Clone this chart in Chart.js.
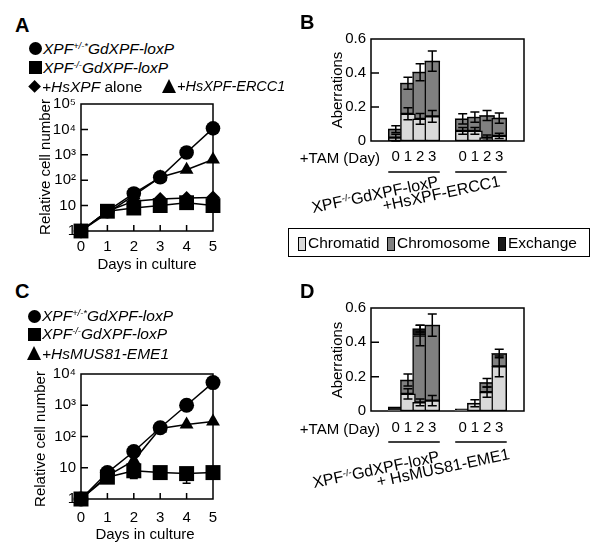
<!DOCTYPE html>
<html><head><meta charset="utf-8">
<script src="https://cdn.jsdelivr.net/npm/chart.js@4.4.0/dist/chart.umd.min.js"></script>
<style>
body{margin:0;background:#fff;width:600px;height:549px;overflow:hidden;position:relative;font-family:"Liberation Sans",Arial,sans-serif;color:#000}
.t{position:absolute;white-space:nowrap;line-height:1}
.it{font-style:italic}
.b{font-weight:bold;font-size:20px}
sup{font-size:0.6em;vertical-align:0.5em;line-height:0}
.cv{position:absolute}
.mk{position:absolute;background:#000}
.rot{position:absolute;white-space:nowrap;line-height:1;transform:translate(-50%,-50%) rotate(-90deg);font-size:15px}
.sw{position:absolute;width:6px;height:12px;border:1px solid #000}
</style></head><body>
<canvas id="cA" class="cv"></canvas>
<canvas id="cB" class="cv"></canvas>
<canvas id="cC" class="cv"></canvas>
<canvas id="cD" class="cv"></canvas>
<div id="txt"></div>
<script>
// ---------------- DATA ----------------
const days = [0, 1, 2, 3, 4, 5];
const yTicksA = [1, 10, 100, 1000, 10000, 100000];
const yTickLabelsA = ['1', '10', '10²', '10³', '10⁴', '10⁵'];
const yTicksC = [1, 10, 100, 1000, 10000];
const yTickLabelsC = ['1', '10', '10²', '10³', '10⁴'];

const namesA = ['XPF+/-* GdXPF-loxP', 'XPF-/- GdXPF-loxP', '+HsXPF alone', '+HsXPF-ERCC1'];
const a_hetero = [1, 6, 30, 130, 1230, 11000];
const a_null   = [1, 6, 8, 10, 13, 10];
const a_xpf    = [1, 6, 15, 18, 20, 21];
const a_ercc1  = [1, 5, 25, 130, 257, 650];

const namesC = ['XPF+/-* GdXPF-loxP', 'XPF-/- GdXPF-loxP', '+HsMUS81-EME1'];
const c_hetero = [1, 7, 33, 190, 1000, 5300];
const c_null   = [1, 5, 8, 7, 6.5, 7];
const c_null_err = [0, 0, 3.5, 0, 3.3, 0];
const c_mus81  = [1, 5.5, 17, 180, 240, 300];

const dayLabels = ['0', '1', '2', '3', '0', '1', '2', '3'];
const aberrationTypes = ['Chromatid', 'Chromosome', 'Exchange'];
const aberrationColors = ['#d9d9d9', '#808080', '#1a1a1a'];
const yTicksBar = [0, 0.2, 0.4, 0.6];
const yTickLabelsBar = ['0', '0.2', '0.4', '0.6'];

const b_chromatid  = [0.02, 0.16, 0.13, 0.145, 0.06, 0.06, 0.02, 0.03];
const b_chromosome = [0.05, 0.18, 0.275, 0.325, 0.07, 0.08, 0.13, 0.105];
const b_exchange   = [0, 0, 0, 0, 0, 0, 0, 0];
const b_chromatid_err  = [0.02, 0.035, 0.032, 0.035, 0.02, 0.02, 0.015, 0.015];
const b_chromosome_err = [0.02, 0.035, 0.05, 0.06, 0.03, 0.03, 0.03, 0.03];
const b_exchange_err   = [0, 0, 0, 0, 0, 0, 0, 0];

const d_chromatid  = [0, 0.10, 0.05, 0.06, 0, 0.045, 0.11, 0.26];
const d_chromosome = [0, 0.08, 0.39, 0.44, 0, 0, 0.055, 0.075];
const d_exchange   = [0.025, 0, 0.04, 0, 0.012, 0, 0, 0];
const d_chromatid_err  = [0, 0.03, 0.02, 0.03, 0, 0.02, 0.03, 0.06];
const d_chromosome_err = [0, 0.035, 0.06, 0.065, 0, 0, 0.025, 0.025];
const d_exchange_err   = [0, 0, 0.02, 0, 0, 0, 0, 0];

// ---------------- SETUP ----------------
const FONT = '"Liberation Sans", Arial, sans-serif';
Chart.defaults.font.family = FONT;
Chart.defaults.color = '#000';
Chart.defaults.animation = false;

function place(id, box) {
  const c = document.getElementById(id);
  c.width = box.w; c.height = box.h;
  c.style.left = box.x + 'px'; c.style.top = box.y + 'px';
  c.style.width = box.w + 'px'; c.style.height = box.h + 'px';
  return c;
}
function fixed(box, area) {
  return {
    padding: {left: 0, top: area.t - box.y, right: box.x + box.w - area.r, bottom: 0},
    yW: area.l - box.x,
    xH: box.y + box.h - area.b
  };
}

const boxPlugin = {
  id: 'box',
  beforeDatasetsDraw(chart, args, o) {
    const {ctx, chartArea: a} = chart;
    const x = chart.scales.x, y = chart.scales.y;
    ctx.save();
    ctx.strokeStyle = '#000'; ctx.lineWidth = 1.5;
    ctx.strokeRect(a.left, a.top, a.right - a.left, a.bottom - a.top);
    ctx.beginPath();
    y.ticks.forEach(t => {
      if (t.value > y.min && t.value < y.max) {
        const py = y.getPixelForValue(t.value);
        ctx.moveTo(a.left, py); ctx.lineTo(a.left + o.yLen, py);
      }
    });
    if (o.xLen) x.ticks.forEach(t => {
      if (t.value > x.min && t.value < x.max) {
        const px = x.getPixelForValue(t.value);
        ctx.moveTo(px, a.bottom); ctx.lineTo(px, a.bottom - o.xLen);
      }
    });
    ctx.stroke();
    ctx.restore();
  }
};

const errPlugin = {
  id: 'errs',
  afterDatasetsDraw(chart, args, o) {
    if (!o.errors) return;
    const {ctx} = chart; const y = chart.scales.y;
    ctx.save(); ctx.strokeStyle = '#000'; ctx.lineWidth = 1.5;
    chart.data.datasets.forEach((ds, di) => {
      const errs = o.errors[di]; if (!errs) return;
      const meta = chart.getDatasetMeta(di);
      errs.forEach((e, i) => {
        if (!e) return;
        let v = 0;
        if (o.stacked) { for (let k = 0; k <= di; k++) v += chart.data.datasets[k].data[i].y; }
        else v = ds.data[i].y;
        const px = meta.data[i].x;
        const pt = y.getPixelForValue(v + e), pb = y.getPixelForValue(v - e);
        ctx.beginPath();
        ctx.moveTo(px, pt); ctx.lineTo(px, pb);
        ctx.moveTo(px - o.cap, pt); ctx.lineTo(px + o.cap, pt);
        ctx.moveTo(px - o.cap, pb); ctx.lineTo(px + o.cap, pb);
        ctx.stroke();
      });
    });
    if (o.groups) {
      const meta = chart.getDatasetMeta(0);
      const yy = chart.chartArea.bottom + o.lineOffset;
      ctx.beginPath();
      o.groups.forEach(g => {
        const e0 = meta.data[g[0]], e1 = meta.data[g[1]];
        ctx.moveTo(e0.x - e0.width / 2, yy); ctx.lineTo(e1.x + e1.width / 2, yy);
      });
      ctx.stroke();
    }
    ctx.restore();
  }
};

function growthChart(id, box, area, seriesList, styles, radii, yTicks, yLabels, yMax, tickPad, errors) {
  place(id, box);
  const f = fixed(box, area);
  return new Chart(document.getElementById(id), {
    type: 'line',
    data: {
      datasets: seriesList.map((s, k) => ({
        label: s.name,
        data: days.map((d, i) => ({x: d, y: s.values[i]})),
        borderColor: '#000', borderWidth: 1.5, tension: 0,
        pointStyle: styles[k], pointRadius: radii[k], pointBackgroundColor: '#000',
        pointBorderWidth: 0, pointHoverRadius: radii[k], clip: false
      }))
    },
    options: {
      responsive: false, animation: false,
      layout: {padding: f.padding},
      plugins: {legend: {display: false}, tooltip: {enabled: false},
        box: {yLen: 7, xLen: 6}, errs: {errors: errors, cap: 4, stacked: false}},
      scales: {
        x: {type: 'linear', min: 0, max: 5, grid: {display: false, drawTicks: false}, border: {display: false},
          afterBuildTicks: s => { s.ticks = days.map(v => ({value: v})); },
          afterFit: s => { s.height = f.xH; },
          ticks: {font: {size: 15}, padding: tickPad, autoSkip: false, maxRotation: 0, callback: v => String(v)}},
        y: {type: 'logarithmic', min: 1, max: yMax, grid: {display: false, drawTicks: false}, border: {display: false},
          afterBuildTicks: s => { s.ticks = yTicks.map(v => ({value: v})); },
          afterFit: s => { s.width = f.yW; },
          ticks: {font: {size: 15}, padding: 5, autoSkip: false, callback: (v, i) => yLabels[i]}}
      }
    },
    plugins: [boxPlugin, errPlugin]
  });
}

function barChart(id, box, area, series, errs, tickPad) {
  place(id, box);
  const f = fixed(box, area);
  const gap = 1.5, perGroup = 4;
  const pos = dayLabels.map((d, i) => Math.floor(i / perGroup) * (perGroup + gap) + (i % perGroup));
  return new Chart(document.getElementById(id), {
    type: 'bar',
    data: {
      datasets: series.map((vals, k) => ({
        label: aberrationTypes[k],
        data: vals.map((v, i) => ({x: pos[i], y: v})),
        backgroundColor: aberrationColors[k],
        borderColor: '#000',
        borderWidth: c => (c.raw && c.raw.y ? 1.5 : 0),
        borderSkipped: false,
        barThickness: 15
      }))
    },
    options: {
      responsive: false, animation: false,
      layout: {padding: f.padding},
      plugins: {legend: {display: false}, tooltip: {enabled: false},
        box: {yLen: 8, xLen: 0},
        errs: {errors: errs, cap: 4.5, stacked: true, groups: [[0, 3], [4, 7]], lineOffset: 31}},
      scales: {
        x: {type: 'linear', stacked: true, min: -1.25, max: pos[pos.length - 1] + 1.25,
          grid: {display: false, drawTicks: false}, border: {display: false},
          afterBuildTicks: s => { s.ticks = pos.map(v => ({value: v})); },
          afterFit: s => { s.height = f.xH; },
          ticks: {font: {size: 15}, padding: tickPad, autoSkip: false, maxRotation: 0, callback: (v, i) => dayLabels[i]}},
        y: {stacked: true, min: 0, max: 0.6, grid: {display: false, drawTicks: false}, border: {display: false},
          afterBuildTicks: s => { s.ticks = yTicksBar.map(v => ({value: v})); },
          afterFit: s => { s.width = f.yW; },
          ticks: {font: {size: 15}, padding: 5, autoSkip: false, callback: (v, i) => yTickLabelsBar[i]}}
      }
    },
    plugins: [boxPlugin, errPlugin]
  });
}

growthChart('cA', {x: 0, y: 90, w: 290, h: 190}, {l: 81, t: 101, r: 213, b: 231},
  [{name: namesA[0], values: a_hetero}, {name: namesA[1], values: a_null},
   {name: namesA[2], values: a_xpf}, {name: namesA[3], values: a_ercc1}],
  ['circle', 'rect', 'rectRot', 'triangle'], [7.3, 10.5, 7, 8], yTicksA, yTickLabelsA, 100000, 7, null);

growthChart('cC', {x: 0, y: 360, w: 290, h: 189}, {l: 81, t: 371, r: 213, b: 499},
  [{name: namesC[0], values: c_hetero}, {name: namesC[1], values: c_null}, {name: namesC[2], values: c_mus81}],
  ['circle', 'rect', 'triangle'], [7.5, 10.6, 8], yTicksC, yTickLabelsC, 10000, 10, [null, c_null_err, null]);

barChart('cB', {x: 280, y: 0, w: 320, h: 180}, {l: 371, t: 39, r: 524, b: 141},
  [b_chromatid, b_chromosome, b_exchange], [b_chromatid_err, b_chromosome_err, b_exchange_err], 7);
barChart('cD', {x: 280, y: 290, w: 320, h: 170}, {l: 371, t: 308, r: 524, b: 411},
  [d_chromatid, d_chromosome, d_exchange], [d_chromatid_err, d_chromosome_err, d_exchange_err], 8);

// ---------------- TEXT ----------------
const T = document.getElementById('txt');
function add(html, style, cls) {
  const d = document.createElement('div');
  d.className = cls || 't'; d.innerHTML = html;
  Object.assign(d.style, style); T.appendChild(d); return d;
}
function txt(html, x, cy, fs, extra, cls) {
  return add(html, Object.assign({left: x + 'px', top: (cy - fs / 2) + 'px', fontSize: fs + 'px'}, extra || {}), cls);
}
function rotLabel(html, x, by, fs, ang) {
  const asc = 0.8465 * fs;
  add(html, {left: x + 'px', top: (by - asc) + 'px', fontSize: fs + 'px',
    transformOrigin: '0 ' + asc + 'px', transform: 'rotate(' + ang + 'deg)'});
}
function marker(shape, cx, cy, s) {
  const st = {};
  if (shape === 'tri') {
    Object.assign(st, {left: (cx - s / 2) + 'px', top: (cy - s / 2) + 'px', width: 0, height: 0, background: 'none',
      borderLeft: (s / 2) + 'px solid transparent', borderRight: (s / 2) + 'px solid transparent', borderBottom: s + 'px solid #000'});
  } else if (shape === 'dia') {
    const q = s / Math.SQRT2;
    Object.assign(st, {left: (cx - q / 2) + 'px', top: (cy - q / 2) + 'px', width: q + 'px', height: q + 'px', transform: 'rotate(45deg)'});
  } else {
    Object.assign(st, {left: (cx - s / 2) + 'px', top: (cy - s / 2) + 'px', width: s + 'px', height: s + 'px'});
    if (shape === 'circ') st.borderRadius = '50%';
  }
  add('', st, 'mk');
}
const het = 'XPF<sup>+/-*</sup>GdXPF-loxP', nul = 'XPF<sup>-/-</sup>GdXPF-loxP';

// panel letters
txt('A', 15, 25, 20, {}, 't b');
txt('B', 300, 22, 20, {}, 't b');
txt('C', 15, 291, 20, {}, 't b');
txt('D', 300, 291, 20, {}, 't b');

// legend A
marker('circ', 35.5, 48.5, 13); txt(het, 43, 48.5, 15.5, {}, 't it');
marker('sq', 35.5, 67.5, 13); txt(nul, 43, 67.5, 15.5, {}, 't it');
marker('dia', 35, 86.5, 13); txt('<i>+HsXPF</i> alone', 42, 86.5, 15.5);
marker('tri', 169, 86, 14); txt('+HsXPF-ERCC1', 177, 86.5, 14.5, {}, 't it');

// legend C
marker('circ', 34, 316, 13); txt(het, 42, 316, 15.5, {}, 't it');
marker('sq', 34, 334, 13); txt(nul, 42, 334, 15.5, {}, 't it');
marker('tri', 34, 353, 14); txt('+HsMUS81-EME1', 42, 353.5, 15.5, {}, 't it');

// axis titles
add('Relative cell number', {left: '44px', top: '167px'}, 'rot');
add('Relative cell number', {left: '38.5px', top: '439px'}, 'rot');
add('Aberrations', {left: '336px', top: '90px'}, 'rot');
add('Aberrations', {left: '336px', top: '360px'}, 'rot');
txt('Days in culture', 147, 263, 15, {transform: 'translateX(-50%)'});
txt('Days in culture', 145, 533, 15, {transform: 'translateX(-50%)'});
txt('+TAM (Day)', 0, 157, 15, {left: 'auto', right: (600 - 380) + 'px'});
txt('+TAM (Day)', 0, 428, 15, {left: 'auto', right: (600 - 380) + 'px'});

// group labels
rotLabel(nul, 313, 214, 16, -12);
rotLabel('+HsXPF-ERCC1', 384, 212, 16, -12);
rotLabel(nul, 314, 489, 16, -12);
rotLabel('+ HsMUS81-EME1', 378, 488, 16, -12);

// legend box for aberration types
add('', {left: '288px', top: '228px', width: '300px', height: '27px', border: '1.5px solid #000'}, 'mk');
T.lastChild.style.background = 'none';
const swX = [298, 387, 498];
aberrationTypes.forEach((n, k) => {
  add('', {left: swX[k] + 'px', top: '237px', background: aberrationColors[k]}, 'sw');
  txt(n, swX[k] + 10, 243, 15.5);
});
</script>
</body></html>
